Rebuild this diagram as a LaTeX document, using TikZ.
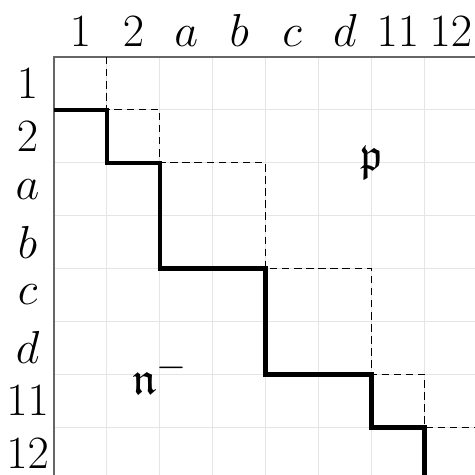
\documentclass[tikz,border=0pt]{standalone}
\usepackage{amsmath,amssymb}
\usetikzlibrary{positioning}

\begin{document}
\begin{tikzpicture}[font=\Huge,
  grid line/.style={gray!20, line width=0.6pt},
  edge line/.style={gray!80!black, line width=0.8pt},
  block line/.style={line width=2.4pt},
  hook line/.style={dash pattern=on 4pt off 2.5pt, line width=0.5pt}]
\useasboundingbox (-1.021,-7.902) rectangle (7.94,1.077);
% Draw grid
\foreach \k in {1,...,7} {
  \draw[grid line] (\k,0) -- (\k,-8.5);
  \draw[grid line] (0,-\k) -- (8.5,-\k);
}
% Draw border
\draw[edge line] (0,-8.5) -- (0,0) -- (8.5,0);
% Labels
\foreach \l [count=\i] in {1,2,a,b,c,d,11,12} {
  \node[anchor=base] (col\i) at (\i-0.5,0.2) {$\l$};
  \node (row\i) at (-0.5,0.5-\i) {$\l$};
}
% Dashed steps
\draw[hook line] (1,0) -- (1,-1) -- (2,-1) -- (2,-2) -- (4,-2) -- (4,-4)
  -- (6,-4) -- (6,-6) -- (7,-6) -- (7,-7) -- (8.5,-7);
% Solid steps
\draw[block line] (0,-1) -- (1,-1) -- (1,-2) -- (2,-2) -- (2,-4) -- (4,-4)
  -- (4,-6) -- (6,-6) -- (6,-7) -- (7,-7) -- (7,-8.5);
% Regions
\node (p) at (6,-2) {$\mathfrak{p}$};
\node (n) at (2,-6) {$\mathfrak{n}^-$};
\end{tikzpicture}
\end{document}
